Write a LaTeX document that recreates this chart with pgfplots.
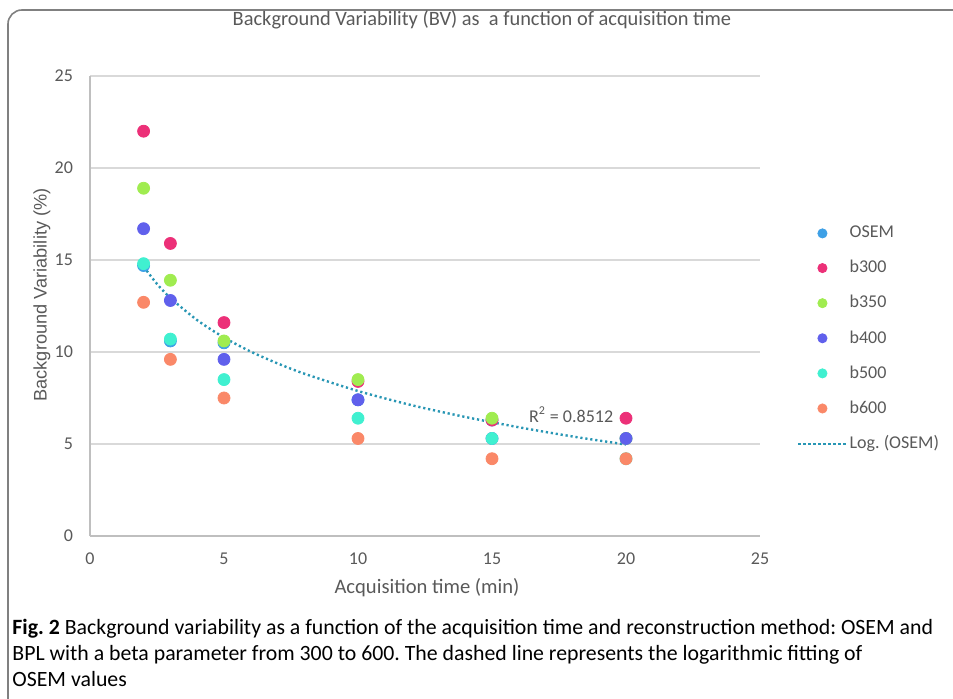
\documentclass[border=0pt]{standalone}
\usepackage{fontspec}
\setmainfont{Carlito}
\newfontfamily\arialfont{Liberation Sans}
\usepackage{pgfplots}
\pgfplotsset{compat=1.18}
\frenchspacing

\definecolor{cOSEM}{RGB}{62,160,230}
\definecolor{cb300}{RGB}{236,48,120}
\definecolor{cb350}{RGB}{160,236,80}
\definecolor{cb400}{RGB}{96,96,236}
\definecolor{cb500}{RGB}{64,240,208}
\definecolor{cb600}{RGB}{250,136,104}
\definecolor{cfit}{RGB}{40,150,180}
\definecolor{txt}{RGB}{89,89,89}

\pgfplotsset{
  dotleg/.style={legend image code/.code={%
    \draw[##1,mark size=2.3pt,mark repeat=2,mark phase=2]
      plot coordinates {(0pt,0pt) (12pt,0pt) (24pt,0pt)};}},
  lineleg/.style={legend image code/.code={%
    \draw[##1] (0pt,0pt) -- (24pt,0pt);}},
  pts/.style={only marks, mark=*, mark size=3pt, color=#1, mark options={draw=#1, fill=#1}, dotleg},
}

\begin{document}
\begin{tikzpicture}
\useasboundingbox (0,0) rectangle (476.5pt,-349.5pt);
% outer frame
\draw[black!50, line width=0.8pt, rounded corners=7pt] (4pt,-360pt) -- (4pt,-5pt) -- (490pt,-5pt);

\begin{axis}[
  at={(45pt,-268pt)}, anchor=south west,
  scale only axis, width=335pt, height=230pt,
  xmin=0, xmax=25, ymin=0, ymax=25,
  xtick={0,5,...,25}, ytick={0,5,...,25},
  axis x line*=bottom, axis y line*=left,
  axis line style={draw=black!25, line width=0.6pt},
  major tick length=0pt,
  ymajorgrids, grid style={draw=black!15, line width=0.6pt},
  ticklabel style={font=\fontsize{9}{10}\selectfont, text=txt},
  /pgf/number format/assume math mode=true,
  xticklabel style={yshift=-5pt},
  yticklabel style={xshift=-5pt},
  xlabel={Acquisition time (min)},
  ylabel={Background Variability (\%)},
  every axis x label/.style={at={(axis description cs:0.503,0)}, anchor=center, yshift=-26pt, font=\fontsize{10.3}{12}\selectfont, text=txt},
  every axis y label/.style={at={(axis description cs:0,0.524)}, anchor=center, xshift=-24pt, rotate=90, font=\arialfont\fontsize{9.1}{11}\selectfont, text=txt},
  title={Background Variability (BV) as\ \ a function of acquisition time},
  title style={at={(axis description cs:0.585,1)}, anchor=center, yshift=22pt, font=\fontsize{10.2}{12}\selectfont, text=txt},
  legend style={at={(axis description cs:1.055,0.679)}, anchor=north west, draw=none, fill=none,
    inner sep=0pt, row sep=7.8pt, font=\fontsize{9}{10}\selectfont, text=txt,
    nodes={inner sep=1pt, anchor=west}},
  legend cell align=left,
  clip=false,
]
\addplot[pts=cOSEM] coordinates {(2,14.7) (3,10.6) (5,10.5) (10,7.4) (15,6.3) (20,5.3)};
\addlegendentry{OSEM}
\addplot[pts=cb300] coordinates {(2,22.0) (3,15.9) (5,11.6) (10,8.4) (15,6.3) (20,6.4)};
\addlegendentry{b300}
\addplot[pts=cb350] coordinates {(2,18.9) (3,13.9) (5,10.6) (10,8.5) (15,6.4) (20,5.3)};
\addlegendentry{b350}
\addplot[pts=cb400] coordinates {(2,16.7) (3,12.8) (5,9.6) (10,7.4) (15,5.3) (20,5.3)};
\addlegendentry{b400}
\addplot[pts=cb500] coordinates {(2,14.8) (3,10.7) (5,8.5) (10,6.4) (15,5.3) (20,4.2)};
\addlegendentry{b500}
\addplot[pts=cb600] coordinates {(2,12.7) (3,9.6) (5,7.5) (10,5.3) (15,4.2) (20,4.2)};
\addlegendentry{b600}
% logarithmic trend line of OSEM
\addplot[cfit, line width=1.2pt, smooth, dash pattern=on 1.1pt off 1.4pt, lineleg]
  coordinates {(2,14.64) (2.5,13.70) (3,12.94) (4,11.73) (5,10.79) (6,10.02) (7,9.38)
               (8,8.82) (10,7.88) (12,7.11) (14,6.47) (16,5.91) (18,5.41) (20,4.97)};
\addlegendentry{Log.\ (OSEM)}
\node[font=\fontsize{9}{10}\selectfont, text=txt] at (axis cs:17.95,6.58) {R\textsuperscript{2} = 0.8512};
\end{axis}

\node[anchor=north west, align=left, inner sep=0pt, font=\fontsize{10.9}{13}\selectfont]
  at (6pt,-309.5pt)
  {\textbf{Fig. 2} Background variability as a function of the acquisition time and reconstruction method: OSEM and\\
   BPL with a beta parameter from 300 to 600. The dashed line represents the logarithmic fitting of\\
   OSEM values};
\end{tikzpicture}
\end{document}
